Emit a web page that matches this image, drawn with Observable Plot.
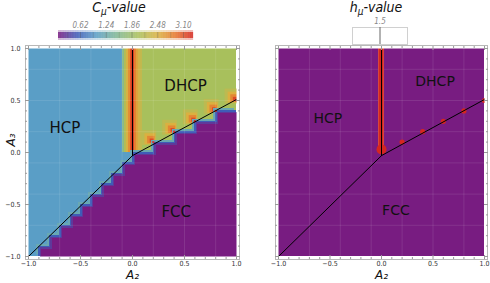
<!DOCTYPE html>
<html><head><meta charset="utf-8">
<script src="https://cdn.jsdelivr.net/npm/d3@7"></script>
<script src="https://cdn.jsdelivr.net/npm/@observablehq/plot@0.6"></script>
<style>
body{margin:0;background:#fff;}
#wrap{position:relative;width:490px;height:283px;overflow:hidden;background:#fff;}
#wrap > *{position:absolute;}
.title{font-family:"Liberation Sans Narrow","DejaVu Sans Condensed",sans-serif;font-style:italic;font-size:14px;color:#111;white-space:nowrap;transform:translateX(-50%);line-height:14px;}
.title sub{font-size:10px;vertical-align:-3px;line-height:0;}
</style></head><body><div id="wrap"></div>
<script>
// ---------- data ----------
// cell edges (A2 columns left->right, A3 rows top->bottom)
const a2Edges = [-1.0,-0.9,-0.8,-0.7,-0.6,-0.5,-0.4,-0.3,-0.2,-0.1,0.0,0.1,0.2,0.3,0.4,0.5,0.6,0.7,0.8,0.9,1.0];
const a3Edges = [1.0,0.9,0.8,0.7,0.6,0.5,0.4,0.3,0.2,0.1,0.0,-0.1,-0.2,-0.3,-0.4,-0.5,-0.6,-0.7,-0.8,-0.9,-1.0];
// phase of each cell: H = HCP, D = DHCP, F = FCC
const phaseGrid = [
  "HHHHHHHHHHDDDDDDDDDD",
  "HHHHHHHHHHDDDDDDDDDD",
  "HHHHHHHHHHDDDDDDDDDD",
  "HHHHHHHHHHDDDDDDDDDD",
  "HHHHHHHHHHDDDDDDDDDD",
  "HHHHHHHHHHDDDDDDDDDD",
  "HHHHHHHHHHDDDDDDDDFF",
  "HHHHHHHHHHDDDDDDFFFF",
  "HHHHHHHHHHDDDDFFFFFF",
  "HHHHHHHHHHDDFFFFFFFF",
  "HHHHHHHHHHFFFFFFFFFF",
  "HHHHHHHHHFFFFFFFFFFF",
  "HHHHHHHHFFFFFFFFFFFF",
  "HHHHHHHFFFFFFFFFFFFF",
  "HHHHHHFFFFFFFFFFFFFF",
  "HHHHHFFFFFFFFFFFFFFF",
  "HHHHFFFFFFFFFFFFFFFF",
  "HHHFFFFFFFFFFFFFFFFF",
  "HHFFFFFFFFFFFFFFFFFF",
  "HFFFFFFFFFFFFFFFFFFF"
];
const phaseCmu = {H: 1.0, D: 2.0, F: 0.0};
const phaseHmu = {H: 0.0, D: 0.0, F: 0.0};
const rimCmu = [1.2, 0.55, 0.3];          // colours seen at the FCC border
// Cmu across the HCP|DHCP border (A2 stripe centres, values)
const bandA2  = [-0.09,-0.07,-0.05,-0.03,-0.01,0.01,0.03,0.05,0.07,0.09];
const bandCmu = [1.6, 2.1, 2.45, 2.75, 3.1, 3.1, 2.85, 2.6, 2.4, 2.25];
const bandA3  = [0.0, 1.0];
// peaks on the DHCP|FCC border
const peakA2 = [0.2, 0.4, 0.6, 0.8, 1.0];
const peakA3 = [0.1, 0.2, 0.3, 0.4, 0.5];
const ringCmu = [2.2, 2.5, 2.8, 3.15];
// hmu: non-zero only on the borders
const hmuBandA2 = [-0.025, 0.025];
const hmuBandA3 = [0.04, 1.0];
const hmuFoot = {a2: 0.0, a3: 0.03};
const hmuPeak = 1.5;
// phase boundaries
const boundaries = [
  {id: "HCP|FCC",  a2: -1.0, a3: -1.0}, {id: "HCP|FCC",  a2: 0.0, a3: -0.03},
  {id: "DHCP|FCC", a2: 0.0,  a3: -0.03}, {id: "DHCP|FCC", a2: 1.0, a3: 0.51},
  {id: "HCP|DHCP", a2: 0.0,  a3: -0.03}, {id: "HCP|DHCP", a2: 0.0, a3: 1.0}
];
// phase labels
const phaseNames = ["HCP", "DHCP", "FCC"];
const leftLabelA2 = [-0.65, 0.51, 0.42],  leftLabelA3 = [0.23, 0.64, -0.57];
const rightLabelA2 = [-0.52, 0.52, 0.14], rightLabelA3 = [0.33, 0.68, -0.56];
// ticks
const majorTicks = [-1.0, -0.5, 0.0, 0.5, 1.0];
const majorLabels = ["\u22121.0", "\u22120.5", "0.0", "0.5", "1.0"];
const minorTicks = [-0.9,-0.8,-0.7,-0.6,-0.4,-0.3,-0.2,-0.1,0.1,0.2,0.3,0.4,0.6,0.7,0.8,0.9];
const meshLines = [-0.7, -0.4, -0.1, 0.2, 0.5, 0.8];
const cmuTicks = [0.62, 1.24, 1.86, 2.48, 3.10];
const cmuTickLabels = ["0.62", "1.24", "1.86", "2.48", "3.10"];
const cmuMinor = [0.31, 0.93, 1.55, 2.17, 2.79];
const hmuTicks = [1.5], hmuTickLabels = ["1.5"];
const cmuRange = [0.09, 3.34];
const hmuLegendDomain = [1.0, 2.0];
// colour map (Mathematica-like rainbow)
const cmuStops = [0.09, 0.55, 1.0, 1.5, 2.0, 2.5, 2.9, 3.34];
const rainbow = ["#781c81", "#3f5cb7", "#5a9ec6", "#80b794", "#a8c05c", "#dbb040", "#e6782f", "#d42620"];

// ---------- helpers ----------
const narrow = '"Liberation Sans Narrow","DejaVu Sans Condensed",sans-serif';
const cmuColor = {type: "linear", domain: cmuStops, range: rainbow, clamp: true};
const hStops = cmuStops.map(v => (v - cmuStops[0]) / (cmuStops[cmuStops.length-1] - cmuStops[0]) * hmuPeak);
const hmuColor = {type: "linear", domain: hStops, range: rainbow, clamp: true};

function gridCells(valueByPhase) {
  const out = [];
  phaseGrid.forEach((row, i) => [...row].forEach((p, j) => out.push({
    x1: a2Edges[j], x2: a2Edges[j+1], y1: a3Edges[i+1], y2: a3Edges[i], phase: p, v: valueByPhase[p]
  })));
  return out;
}
const rectXY = {x1: "x1", x2: "x2", y1: "y1", y2: "y2"};
const peaks = peakA2.map((a2, i) => ({a2, a3: peakA3[i]}));
const boundaryLine = Plot.line(boundaries, {x: "a2", y: "a3", z: "id", stroke: "black", strokeWidth: 1});

function frameAndAxes(showYLabels) {
  const tk = {stroke: "#9a9a9a", tickFormat: () => "", label: null};
  const m = [
    Plot.frame({stroke: "white", strokeWidth: 6}),
    Plot.frame({stroke: "#b8b8b8"})
  ];
  for (const anchor of ["top", "bottom"]) {
    m.push(Plot.axisX({...tk, anchor, ticks: minorTicks, tickSize: -2}));
    m.push(Plot.axisX({...tk, anchor, ticks: majorTicks, tickSize: -4}));
  }
  for (const anchor of ["left", "right"]) {
    m.push(Plot.axisY({...tk, anchor, ticks: minorTicks, tickSize: -2}));
    m.push(Plot.axisY({...tk, anchor, ticks: majorTicks, tickSize: -4}));
  }
  m.push(Plot.axisX({anchor: "bottom", ticks: majorTicks, tickSize: 0, tickPadding: 1.5, label: null,
    tickFormat: d => majorLabels[majorTicks.indexOf(d)], fill: "#333"}));
  if (showYLabels) m.push(Plot.axisY({anchor: "left", ticks: majorTicks, tickSize: 0, tickPadding: 5, label: null,
    tickFormat: d => majorLabels[majorTicks.indexOf(d)], fill: "#333"}));
  m.push(Plot.text(["A\u2082"], {frameAnchor: "bottom", dy: 19, fontSize: 12, fontStyle: "italic", fontFamily: "DejaVu Sans", fill: "#111"}));
  if (showYLabels) m.push(Plot.text(["A\u2083"], {frameAnchor: "left", dx: -14, dy: -6, rotate: -90, fontSize: 12, fontStyle: "italic", fontFamily: "DejaVu Sans", fill: "#111"}));
  return m;
}
const meshMarks = [
  Plot.ruleX(meshLines, {stroke: "white", strokeOpacity: 0.1}),
  Plot.ruleY(meshLines, {stroke: "white", strokeOpacity: 0.1})
];
const baseStyle = {background: "transparent", fontFamily: narrow, fontSize: "7px", overflow: "visible"};

const wrap = document.getElementById("wrap");
function place(el, left, top) { el.style.left = left + "px"; el.style.top = top + "px"; wrap.appendChild(el); }

// ---------- left panel : Cmu ----------
const cmuCells = gridCells(phaseCmu);
const fcc = cmuCells.filter(d => d.phase === "F");
const stripes = bandA2.map((a2, i) => ({x1: a2 - 0.01, x2: a2 + 0.01, y1: bandA3[0], y2: bandA3[1], v: bandCmu[i]}));
const ringSizes = [0.11, 0.08, 0.055, 0.03];
const rings = [];
peaks.forEach(p => ringCmu.forEach((v, k) => rings.push({
  x1: p.a2 - ringSizes[k], x2: p.a2 + 0.3 * ringSizes[k], y1: p.a3 - 0.3 * ringSizes[k], y2: p.a3 + ringSizes[k], v
})));

const left = Plot.plot({
  width: 245, height: 243, marginLeft: 25, marginRight: 6, marginTop: 5, marginBottom: 24, inset: 3,
  x: {domain: [-1, 1], label: null}, y: {domain: [-1, 1], label: null},
  color: cmuColor, style: baseStyle,
  marks: [
    Plot.rect(cmuCells, {...rectXY, fill: "v", shapeRendering: "crispEdges"}),
    Plot.rect(stripes, {...rectXY, fill: "v", shapeRendering: "crispEdges"}),
    Plot.ruleX([0], {y1: bandA3[0], y2: bandA3[1], stroke: "#d42620", strokeWidth: 2}),
    Plot.rect(rings, {...rectXY, fill: "v"}),
    Plot.rect(fcc, {...rectXY, fill: () => rimCmu[0], dx: -2, dy: -2, shapeRendering: "crispEdges"}),
    Plot.rect(fcc, {...rectXY, fill: () => rimCmu[1], shapeRendering: "crispEdges"}),
    Plot.rect(fcc, {...rectXY, fill: () => rimCmu[2], dx: 1.5, dy: 1.5, shapeRendering: "crispEdges"}),
    Plot.rect(fcc, {...rectXY, fill: "v", dx: 3, dy: 3, shapeRendering: "crispEdges"}),
    Plot.dot(peaks, {x: "a2", y: "a3", r: 1.2, fill: () => 3.34}),
    ...meshMarks,
    boundaryLine,
    Plot.text(phaseNames, {x: (d, i) => leftLabelA2[i], y: (d, i) => leftLabelA3[i], text: d => d,
      fontSize: 15, fontFamily: "DejaVu Sans", fill: "#111"}),
    ...frameAndAxes(true)
  ]
});
place(left, 0, 40);

// ---------- right panel : hmu ----------
const hCells = gridCells(phaseHmu);
const right = Plot.plot({
  width: 245, height: 243, marginLeft: 30, marginRight: 3, marginTop: 5, marginBottom: 24, inset: 3,
  x: {domain: [-1, 1], label: null}, y: {domain: [-1, 1], label: null},
  color: hmuColor, style: baseStyle,
  marks: [
    Plot.rect(hCells, {...rectXY, fill: "v", shapeRendering: "crispEdges"}),
    ...meshMarks,
    Plot.rect([hmuPeak], {x1: () => hmuBandA2[0], x2: () => hmuBandA2[1], y1: () => hmuBandA3[0], y2: () => hmuBandA3[1],
      fill: d => d, stroke: "#e2503a", strokeWidth: 0.8}),
    Plot.dot([hmuFoot], {x: "a2", y: "a3", r: 5, fill: () => hmuPeak}),
    Plot.dot(peaks, {x: "a2", y: "a3", r: 2.6, fill: () => hmuPeak}),
    boundaryLine,
    Plot.text(phaseNames, {x: (d, i) => rightLabelA2[i], y: (d, i) => rightLabelA3[i], text: d => d,
      fontSize: 14, fontFamily: "DejaVu Sans", fill: "#111"}),
    ...frameAndAxes(false)
  ]
});
place(right, 245, 40);

// ---------- Cmu colour bar ----------
const ramp = d3.range(cmuRange[0], cmuRange[1], 0.01);
const bar = Plot.plot({
  width: 245, height: 40, marginLeft: 58, marginRight: 52, marginTop: 32, marginBottom: 2,
  x: {domain: cmuRange, label: null}, color: cmuColor,
  style: {...baseStyle, fontStyle: "italic", fontSize: "8px"},
  marks: [
    Plot.rect(ramp, {x1: d => d, x2: d => d + 0.012, fill: d => d, insetTop: -2, insetBottom: -2, fillOpacity: 0.3}),
    Plot.rect(ramp, {x1: d => d, x2: d => d + 0.012, fill: d => d}),
    Plot.ruleX(cmuTicks, {stroke: "#555", strokeOpacity: 0.35}),
    Plot.ruleX(cmuMinor, {stroke: "#555", strokeOpacity: 0.2}),
    Plot.axisX({anchor: "top", ticks: cmuTicks, tickSize: 0, tickPadding: 5, label: null, fill: "#888",
      tickFormat: d => cmuTickLabels[cmuTicks.indexOf(d)]})
  ]
});
place(bar, 0, 0);

// ---------- hmu legend box ----------
const hbox = Plot.plot({
  width: 245, height: 45, marginLeft: 107, marginRight: 83, marginTop: 27, marginBottom: 1,
  x: {domain: hmuLegendDomain, label: null},
  style: {...baseStyle, fontStyle: "italic", fontSize: "8px"},
  marks: [
    Plot.frame({fill: "white", stroke: "#d0d0d0"}),
    Plot.ruleX(hmuTicks, {stroke: "#666"}),
    Plot.axisX({anchor: "top", ticks: hmuTicks, tickSize: 0, tickPadding: 4, label: null, fill: "#888",
      tickFormat: d => hmuTickLabels[hmuTicks.indexOf(d)]})
  ]
});
place(hbox, 245, 0);

// ---------- titles ----------
const t1 = document.createElement("div"); t1.className = "title"; t1.innerHTML = "C<sub>\u03bc</sub>-value"; place(t1, 119, 0);
const t2 = document.createElement("div"); t2.className = "title"; t2.innerHTML = "h<sub>\u03bc</sub>-value"; place(t2, 376, 0);
</script></body></html>
